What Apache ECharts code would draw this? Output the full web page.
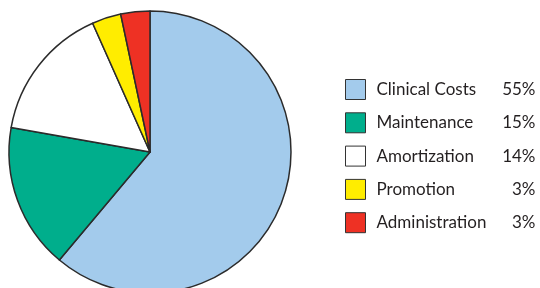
<!DOCTYPE html>
<html><head><meta charset="utf-8">
<script src="https://cdn.jsdelivr.net/npm/echarts@6/dist/echarts.min.js"></script>
<style>html,body{margin:0;padding:0;background:#fff}#c{width:540px;height:288px}</style>
</head><body><div id="c"></div>
<script>
const categories = ["Clinical Costs", "Maintenance", "Amortization", "Promotion", "Administration"];
const values = [55, 15, 14, 3, 3];
const colors = ["#a3cbec", "#00ae8c", "#ffffff", "#ffed00", "#ee3124"];

const chart = echarts.init(document.getElementById('c'));
chart.setOption({
  animation: false,
  legend: {
    orient: 'vertical',
    left: 345, top: 79, padding: 0,
    itemWidth: 20, itemHeight: 20, itemGap: 12.3,
    icon: 'rect',
    itemStyle: { borderColor: '#333', borderWidth: 1 },
    selectedMode: false,
    formatter: function (name) {
      const i = categories.indexOf(name);
      return '{n|' + name + '}{p|' + values[i] + '%}';
    },
    textStyle: {
      fontFamily: 'Lato', fontSize: 17, color: '#231f20', padding: [0,0,0,6],
      rich: {
        n: { width: 115, fontFamily: 'Lato', fontSize: 17, color: '#231f20', lineHeight: 20 },
        p: { width: 44, align: 'right', fontFamily: 'Lato', fontSize: 17, color: '#231f20', lineHeight: 20 }
      }
    },
    data: categories
  },
  series: [{
    type: 'pie',
    center: [150, 152],
    radius: 141,
    startAngle: 90,
    clockwise: true,
    label: { show: false },
    labelLine: { show: false },
    emphasis: { disabled: true },
    itemStyle: { borderColor: '#2b2b2b', borderWidth: 1.5 },
    data: categories.map((c, i) => ({ name: c, value: values[i], itemStyle: { color: colors[i] } }))
  }]
});
</script></body></html>
